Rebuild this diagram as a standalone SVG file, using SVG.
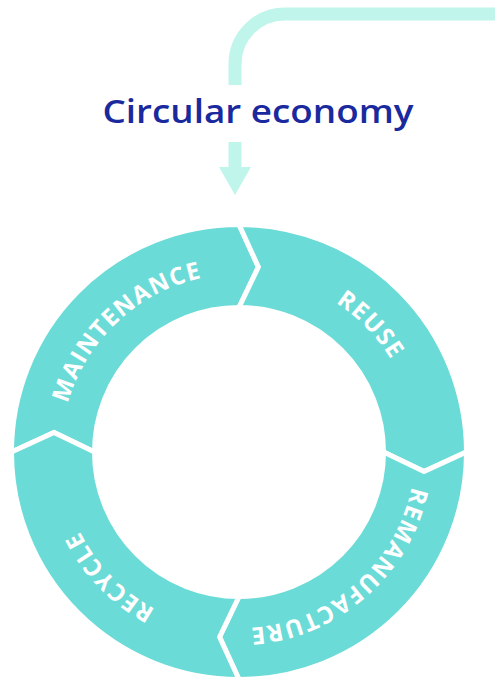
<svg xmlns="http://www.w3.org/2000/svg" width="495" height="680" viewBox="0 0 495 680">
  <style>
    .seg { fill: #6BDBD7; stroke: #FFFFFF; stroke-width: 5; stroke-linejoin: miter; }
    .lbl { fill: #FFFFFF; font-family: "Open Sans", "Liberation Sans", sans-serif; font-weight: 700; font-size: 24px; letter-spacing: 1.4px; }
    .title { fill: #1A2A9E; font-family: "Open Sans", "Liberation Sans", sans-serif; font-weight: 600; font-size: 33px; }
    .flow { fill: none; stroke: #C0F5EC; stroke-width: 13; }
    .head { fill: #C0F5EC; }
  </style>
  <defs>
    <path id="p-maint" d="M 108.8,573.4 A 178 178 0 0 1 369.2,330.6"/>
    <path id="p-reuse" d="M 115.3,324 A 178 178 0 0 1 362.7,580"/>
    <path id="p-reman" d="M 373.3,335.2 A 178 178 0 0 1 104.7,568.8"/>
    <path id="p-recyc" d="M 362.7,580 A 178 178 0 0 1 115.3,324"/>
  </defs>
  <rect width="495" height="680" fill="#FFFFFF"/>

  <g id="connectors">
    <path class="flow" d="M 500,14 H 285 A 50 50 0 0 0 235,64 V 85"/>
    <path class="flow" d="M 235,142 V 169"/>
    <polygon class="head" points="219,167 251,167 235,195"/>
  </g>

  <g id="title">
    <text class="title" x="258" y="123" text-anchor="middle" textLength="311" lengthAdjust="spacingAndGlyphs">Circular economy</text>
  </g>

  <g id="maintenance">
    <path class="seg" d="M 11.5,452 A 227.5 227.5 0 0 1 239,224.5 L 258.4,267 L 239,307.5 A 144.5 144.5 0 0 0 94.5,452 L 54,432.6 Z"/>
    <text class="lbl"><textPath href="#p-maint" startOffset="50%" text-anchor="middle">MAINTENANCE</textPath></text>
  </g>
  <g id="reuse">
    <path class="seg" d="M 239,224.5 A 227.5 227.5 0 0 1 466.5,452 L 424,471.4 L 383.5,452 A 144.5 144.5 0 0 0 239,307.5 L 258.4,267 Z"/>
    <text class="lbl"><textPath href="#p-reuse" startOffset="50%" text-anchor="middle">REUSE</textPath></text>
  </g>
  <g id="remanufacture">
    <path class="seg" d="M 466.5,452 A 227.5 227.5 0 0 1 239,679.5 L 219.6,637 L 239,596.5 A 144.5 144.5 0 0 0 383.5,452 L 424,471.4 Z"/>
    <text class="lbl"><textPath href="#p-reman" startOffset="50%" text-anchor="middle">REMANUFACTURE</textPath></text>
  </g>
  <g id="recycle">
    <path class="seg" d="M 239,679.5 A 227.5 227.5 0 0 1 11.5,452 L 54,432.6 L 94.5,452 A 144.5 144.5 0 0 0 239,596.5 L 219.6,637 Z"/>
    <text class="lbl"><textPath href="#p-recyc" startOffset="50%" text-anchor="middle">RECYCLE</textPath></text>
  </g>
</svg>
